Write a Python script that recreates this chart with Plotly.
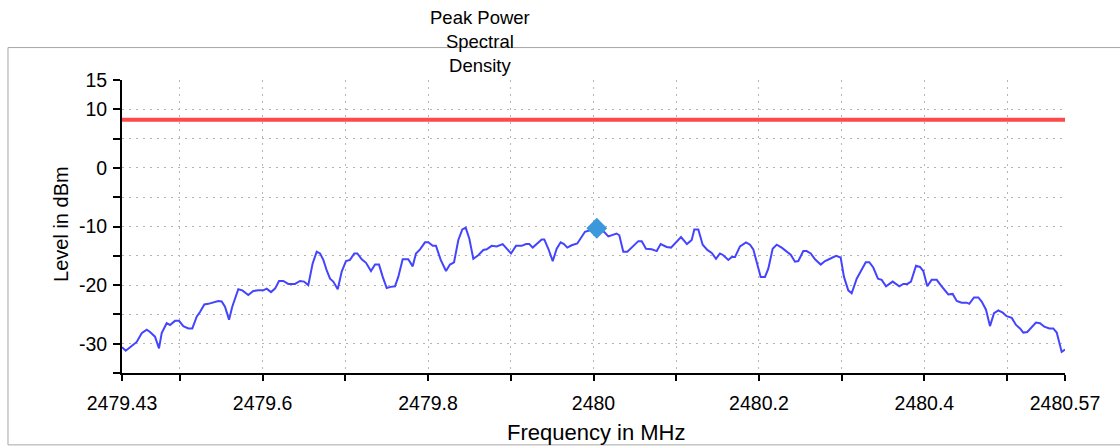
"""Peak power spectral density plot (spectrum analyzer style)."""
import plotly.graph_objects as go

# trace: frequency in MHz, level in dBm
freq_mhz = [
    2479.4300, 2479.4345, 2479.4417, 2479.4478, 2479.4538, 2479.4599, 2479.4639, 2479.4699,
    2479.4747, 2479.4780, 2479.4840, 2479.4880, 2479.4941, 2479.4989, 2479.5041, 2479.5102,
    2479.5150, 2479.5203, 2479.5243, 2479.5295, 2479.5343, 2479.5404, 2479.5464, 2479.5505,
    2479.5545, 2479.5594, 2479.5633, 2479.5706, 2479.5754, 2479.5827, 2479.5887, 2479.5948,
    2479.6008, 2479.6049, 2479.6101, 2479.6150, 2479.6198, 2479.6250, 2479.6310, 2479.6391,
    2479.6452, 2479.6500, 2479.6552, 2479.6605, 2479.6654, 2479.6694, 2479.6734, 2479.6775,
    2479.6815, 2479.6854, 2479.6908, 2479.6956, 2479.7008, 2479.7056, 2479.7108, 2479.7145,
    2479.7198, 2479.7250, 2479.7310, 2479.7359, 2479.7407, 2479.7452, 2479.7500, 2479.7548,
    2479.7600, 2479.7640, 2479.7693, 2479.7761, 2479.7814, 2479.7854, 2479.7903, 2479.7963,
    2479.8003, 2479.8056, 2479.8096, 2479.8153, 2479.8217, 2479.8265, 2479.8314, 2479.8366,
    2479.8414, 2479.8455, 2479.8499, 2479.8547, 2479.8607, 2479.8668, 2479.8709, 2479.8769,
    2479.8830, 2479.8902, 2479.8951, 2479.9003, 2479.9063, 2479.9132, 2479.9184, 2479.9224,
    2479.9265, 2479.9325, 2479.9374, 2479.9405, 2479.9454, 2479.9507, 2479.9555, 2479.9603,
    2479.9643, 2479.9683, 2479.9736, 2479.9804, 2479.9845, 2479.9897, 2479.9970, 2480.0030,
    2480.0091, 2480.0127, 2480.0179, 2480.0232, 2480.0280, 2480.0312, 2480.0360, 2480.0409,
    2480.0474, 2480.0542, 2480.0583, 2480.0635, 2480.0704, 2480.0764, 2480.0812, 2480.0885,
    2480.0937, 2480.1006, 2480.1058, 2480.1130, 2480.1187, 2480.1219, 2480.1267, 2480.1320,
    2480.1376, 2480.1429, 2480.1481, 2480.1529, 2480.1569, 2480.1630, 2480.1671, 2480.1711,
    2480.1771, 2480.1844, 2480.1892, 2480.1932, 2480.1980, 2480.2021, 2480.2073, 2480.2113,
    2480.2166, 2480.2215, 2480.2275, 2480.2336, 2480.2384, 2480.2436, 2480.2476, 2480.2536,
    2480.2577, 2480.2626, 2480.2678, 2480.2747, 2480.2799, 2480.2859, 2480.2932, 2480.2988,
    2480.3028, 2480.3080, 2480.3121, 2480.3182, 2480.3242, 2480.3291, 2480.3334, 2480.3382,
    2480.3439, 2480.3484, 2480.3536, 2480.3617, 2480.3697, 2480.3745, 2480.3794, 2480.3838,
    2480.3899, 2480.3947, 2480.3987, 2480.4035, 2480.4088, 2480.4149, 2480.4209, 2480.4289,
    2480.4342, 2480.4391, 2480.4451, 2480.4512, 2480.4543, 2480.4600, 2480.4652, 2480.4693,
    2480.4745, 2480.4793, 2480.4842, 2480.4894, 2480.4947, 2480.4995, 2480.5056, 2480.5108,
    2480.5156, 2480.5196, 2480.5244, 2480.5297, 2480.5349, 2480.5398, 2480.5450, 2480.5510,
    2480.5558, 2480.5600, 2480.5660, 2480.5700,
]
level_dbm = [
    -30.6, -31.2, -30.4, -29.7, -28.2, -27.6, -28.0, -28.8,
    -30.8, -28.2, -26.5, -26.8, -26.1, -26.1, -27.0, -27.4,
    -27.4, -25.4, -24.6, -23.3, -23.2, -22.9, -22.7, -22.8,
    -23.7, -25.9, -23.7, -20.7, -20.9, -21.7, -21.0, -20.9,
    -20.9, -20.6, -21.2, -20.6, -19.3, -19.3, -19.8, -19.8,
    -19.3, -19.4, -20.0, -16.3, -14.3, -14.6, -15.7, -17.5,
    -18.9, -19.4, -20.7, -17.7, -15.9, -15.7, -14.6, -14.6,
    -15.6, -16.2, -17.6, -16.5, -16.5, -18.6, -20.5, -20.3,
    -20.2, -18.6, -15.6, -15.6, -16.8, -14.6, -13.9, -12.7,
    -12.7, -13.3, -13.3, -15.7, -17.6, -16.5, -16.1, -12.3,
    -10.5, -10.2, -12.1, -15.5, -14.9, -14.0, -13.9, -13.3,
    -13.4, -13.0, -13.8, -14.6, -13.3, -13.3, -13.0, -13.0,
    -13.6, -12.9, -12.2, -12.2, -13.8, -15.9, -13.8, -12.7,
    -13.0, -13.6, -13.2, -12.9, -12.1, -10.9, -10.6, -10.3,
    -10.6, -10.9, -11.7, -11.5, -11.2, -11.5, -14.3, -14.3,
    -13.4, -12.5, -12.5, -13.8, -13.9, -14.2, -13.0, -13.5,
    -13.6, -12.6, -11.8, -13.0, -12.3, -10.5, -10.5, -13.1,
    -14.0, -14.5, -15.5, -14.6, -14.9, -15.7, -15.2, -15.2,
    -13.4, -12.7, -13.1, -13.9, -16.6, -18.6, -18.6, -17.2,
    -13.8, -13.1, -13.6, -14.2, -14.8, -16.0, -15.9, -14.2,
    -14.2, -14.6, -15.6, -16.5, -15.9, -15.5, -15.0, -15.3,
    -18.6, -20.9, -21.4, -18.9, -17.2, -16.1, -16.1, -17.0,
    -18.9, -19.1, -20.2, -19.4, -20.2, -19.8, -19.8, -19.4,
    -16.7, -16.9, -17.6, -20.2, -19.1, -19.1, -20.2, -21.6,
    -21.5, -22.7, -23.0, -23.0, -23.2, -22.1, -22.1, -22.8,
    -24.2, -27.0, -24.8, -24.3, -24.7, -25.3, -25.6, -26.8,
    -27.4, -28.1, -28.0, -27.1, -26.4, -26.5, -27.1, -27.4,
    -27.4, -28.1, -31.4, -31.0,
]

limit_freq = [2479.43, 2480.57]
limit_dbm = [8.2, 8.2]

peak_freq = [2480.004]
peak_dbm = [-10.3]

x_ticks = [2479.43, 2479.5, 2479.6, 2479.7, 2479.8, 2479.9, 2480.0,
           2480.1, 2480.2, 2480.3, 2480.4, 2480.5, 2480.57]
x_labels = ["2479.43", "", "2479.6", "", "2479.8", "", "2480",
            "", "2480.2", "", "2480.4", "", "2480.57"]
y_ticks = [15, 10, 5, 0, -5, -10, -15, -20, -25, -30, -35]
y_labels = ["15", "10", "", "0", "", "-10", "", "-20", "", "-30", ""]

X_RANGE = [2479.43, 2480.57]
Y_RANGE = [-35, 15]
FONT = "Arial, Liberation Sans, sans-serif"
GRID = dict(showgrid=True, gridcolor="#b4b4b4", gridwidth=1, griddash="2px,5px")

fig = go.Figure()
fig.add_trace(go.Scatter(x=limit_freq, y=limit_dbm, mode="lines",
                         line=dict(color="#ff4848", width=4), hoverinfo="skip"))
fig.add_trace(go.Scatter(x=freq_mhz, y=level_dbm, mode="lines",
                         line=dict(color="#4444ff", width=2)))
fig.add_trace(go.Scatter(x=peak_freq, y=peak_dbm, mode="markers",
                         marker=dict(symbol="diamond", size=16, color="#3a98db")))

fig.update_layout(
    width=1120, height=446,
    showlegend=False,
    paper_bgcolor="white", plot_bgcolor="white",
    font=dict(family=FONT, color="black", size=19),
    margin=dict(l=122, r=55, t=80, b=73, autoexpand=False),
    xaxis=dict(range=X_RANGE, tickvals=x_ticks, ticktext=x_labels,
               ticks="outside", ticklen=6, tickwidth=1.5, tickcolor="black",
               showline=True, linecolor="black", linewidth=2,
               zeroline=False, ticklabelstandoff=6,
               tickfont=dict(size=19.5), **GRID),
    yaxis=dict(range=Y_RANGE, tickvals=y_ticks, ticktext=y_labels,
               ticks="outside", ticklen=7, tickwidth=1.5, tickcolor="black",
               showline=True, linecolor="black", linewidth=2,
               zeroline=False, ticklabelstandoff=2,
               tickfont=dict(size=19.5), **GRID),
    # second set of axes only to draw the inner half of the crossing ticks
    xaxis2=dict(range=X_RANGE, overlaying="x", anchor="y", side="bottom",
                tickvals=x_ticks, ticks="inside", ticklen=10, tickwidth=1.5,
                tickcolor="black", showticklabels=False, showgrid=False,
                showline=False, zeroline=False),
    yaxis2=dict(range=Y_RANGE, overlaying="y", anchor="x", side="left",
                tickvals=y_ticks, ticks="inside", ticklen=8, tickwidth=1.5,
                tickcolor="black", showticklabels=False, showgrid=False,
                showline=False, zeroline=False),
)

# outer frame of the chart panel
fig.add_shape(type="rect", xref="paper", yref="paper",
              x0=-0.1209, x1=1.0636, y0=-0.2453, y1=1.1107,
              line=dict(color="#a6a6a6", width=1), layer="below")

fig.add_annotation(text="Peak Power<br>Spectral<br>Density", xref="paper", yref="paper",
                   x=0.3796, y=1.1305, xanchor="center", yanchor="middle",
                   showarrow=False, font=dict(size=18.5))
fig.add_annotation(text="Frequency in MHz", xref="paper", yref="paper",
                   x=0.5037, y=-0.2044, xanchor="center", yanchor="middle",
                   showarrow=False, font=dict(size=22))
fig.add_annotation(text="Level in dBm", xref="paper", yref="paper",
                   x=-0.0639, y=0.5077, xanchor="center", yanchor="middle",
                   textangle=-90, showarrow=False, font=dict(size=20))

# page body has a default 8px margin; drop it so the figure fills the window
fig.write_html("out.html", config={"displayModeBar": False},
               post_script="document.body.style.margin='0';")
